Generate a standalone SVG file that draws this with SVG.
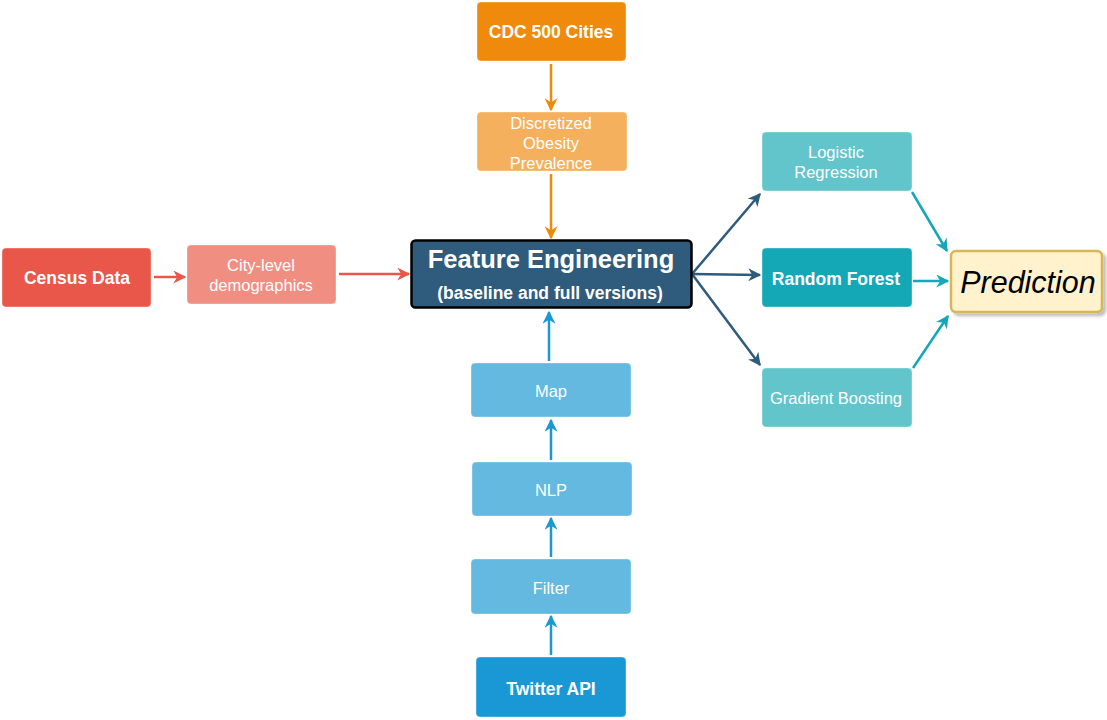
<svg xmlns="http://www.w3.org/2000/svg" width="1107" height="720" viewBox="0 0 1107 720">
<defs>
<style>
.n{stroke:#ffffff;stroke-opacity:0.35;stroke-width:1}
.t{font-family:"Liberation Sans",Arial,sans-serif;fill:#ffffff;text-anchor:middle}
.b{font-weight:bold}
.c{fill:none;stroke-width:2.5}
</style>
<marker id="aO" viewBox="0 0 10 10" refX="9" refY="5" markerWidth="14" markerHeight="13" markerUnits="userSpaceOnUse" orient="auto"><path d="M0,0 L10,5 L0,10 L3,5 z" fill="#EF8A0C"/></marker>
<marker id="aR" viewBox="0 0 10 10" refX="9" refY="5" markerWidth="14" markerHeight="13" markerUnits="userSpaceOnUse" orient="auto"><path d="M0,0 L10,5 L0,10 L3,5 z" fill="#E8574A"/></marker>
<marker id="aB" viewBox="0 0 10 10" refX="9" refY="5" markerWidth="14" markerHeight="13" markerUnits="userSpaceOnUse" orient="auto"><path d="M0,0 L10,5 L0,10 L3,5 z" fill="#1A98D5"/></marker>
<marker id="aD" viewBox="0 0 10 10" refX="9" refY="5" markerWidth="14" markerHeight="13" markerUnits="userSpaceOnUse" orient="auto"><path d="M0,0 L10,5 L0,10 L3,5 z" fill="#2F5B7C"/></marker>
<marker id="aT" viewBox="0 0 10 10" refX="9" refY="5" markerWidth="14" markerHeight="13" markerUnits="userSpaceOnUse" orient="auto"><path d="M0,0 L10,5 L0,10 L3,5 z" fill="#14A8B7"/></marker>
<filter id="sh" x="-10%" y="-10%" width="130%" height="140%"><feDropShadow dx="3" dy="3" stdDeviation="1.5" flood-color="#000" flood-opacity="0.25"/></filter>
</defs>
<rect width="1107" height="720" fill="#ffffff"/>
<g id="connectors">
<path class="c" d="M551,64 V110" stroke="#EF8A0C" marker-end="url(#aO)"/>
<path class="c" d="M551,174 V238" stroke="#EF8A0C" marker-end="url(#aO)"/>
<path class="c" d="M154,277 H185" stroke="#E8574A" marker-end="url(#aR)"/>
<path class="c" d="M339,274 H409" stroke="#E8574A" marker-end="url(#aR)"/>
<path class="c" d="M549,361 V312" stroke="#1A98D5" marker-end="url(#aB)"/>
<path class="c" d="M551,460 V420" stroke="#1A98D5" marker-end="url(#aB)"/>
<path class="c" d="M551,557 V518" stroke="#1A98D5" marker-end="url(#aB)"/>
<path class="c" d="M551,655 V616" stroke="#1A98D5" marker-end="url(#aB)"/>
<path class="c" d="M692,274 L760,194" stroke="#2F5B7C" marker-end="url(#aD)"/>
<path class="c" d="M692,274 L760,275" stroke="#2F5B7C" marker-end="url(#aD)"/>
<path class="c" d="M692,274 L760,365" stroke="#2F5B7C" marker-end="url(#aD)"/>
<path class="c" d="M912,192 L947,251" stroke="#14A8B7" marker-end="url(#aT)"/>
<path class="c" d="M913,281 L948,281" stroke="#14A8B7" marker-end="url(#aT)"/>
<path class="c" d="M913,368 L948,316" stroke="#14A8B7" marker-end="url(#aT)"/>
</g>
<g id="cdc"><rect class="n" x="477" y="2" width="149" height="59" rx="4" fill="#EF8A0C"/><text class="t b" x="551" y="38" font-size="17.5">CDC 500 Cities</text></g>
<g id="discretized"><rect class="n" x="477" y="112" width="150" height="59" rx="4" fill="#F4B05C"/><text class="t" x="551" y="129" font-size="16.5">Discretized</text><text class="t" x="551" y="149" font-size="16.5">Obesity</text><text class="t" x="551" y="169" font-size="16.5">Prevalence</text></g>
<g id="feature"><rect x="411.5" y="240.5" width="280" height="67" rx="4" fill="#2F5B7C" stroke="#000" stroke-width="2.5"/><text class="t b" x="551" y="268" font-size="25.5">Feature Engineering</text><text class="t b" x="550" y="299" font-size="17.5">(baseline and full versions)</text></g>
<g id="census"><rect class="n" x="2" y="248" width="149" height="59" rx="4" fill="#E8574A"/><text class="t b" x="77" y="284" font-size="17.5">Census Data</text></g>
<g id="city"><rect class="n" x="187" y="245" width="149" height="59" rx="4" fill="#F08E82"/><text class="t" x="261" y="271" font-size="16.5">City-level</text><text class="t" x="261" y="291" font-size="16.5">demographics</text></g>
<g id="map"><rect class="n" x="471" y="363" width="160" height="54" rx="4" fill="#63B9E0"/><text class="t" x="551" y="397" font-size="16.5">Map</text></g>
<g id="nlp"><rect class="n" x="472" y="462" width="160" height="54" rx="4" fill="#63B9E0"/><text class="t" x="551" y="496" font-size="16.5">NLP</text></g>
<g id="filter"><rect class="n" x="471" y="559" width="160" height="55" rx="4" fill="#63B9E0"/><text class="t" x="551" y="594" font-size="16.5">Filter</text></g>
<g id="twitter"><rect class="n" x="476" y="657" width="150" height="60" rx="4" fill="#1A98D5"/><text class="t b" x="551" y="695" font-size="17.5">Twitter API</text></g>
<g id="logistic"><rect class="n" x="762" y="132" width="150" height="59" rx="4" fill="#62C5CC"/><text class="t" x="836" y="158" font-size="16.5">Logistic</text><text class="t" x="836" y="178" font-size="16.5">Regression</text></g>
<g id="rf"><rect class="n" x="762" y="248" width="150" height="59" rx="4" fill="#14A8B7"/><text class="t b" x="836" y="285" font-size="17.5">Random Forest</text></g>
<g id="gb"><rect class="n" x="762" y="368" width="150" height="59" rx="4" fill="#62C5CC"/><text class="t" x="836" y="404" font-size="16.5">Gradient Boosting</text></g>
<g id="prediction"><rect x="951" y="251" width="151" height="61" rx="5" fill="#FFF2CC" stroke="#D6B656" stroke-width="2.5" filter="url(#sh)"/><text x="1028" y="293" font-family="Liberation Sans,Arial,sans-serif" font-size="30.5" font-style="italic" fill="#000" text-anchor="middle">Prediction</text></g>
</svg>
